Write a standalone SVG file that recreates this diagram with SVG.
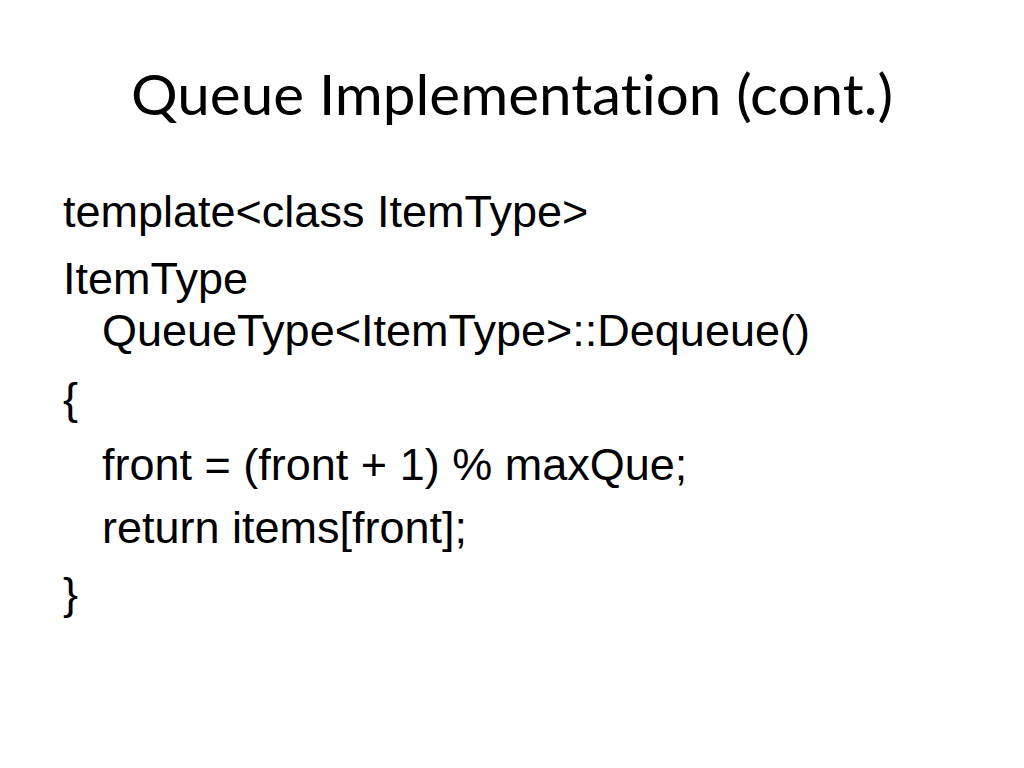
<svg xmlns="http://www.w3.org/2000/svg" width="1024" height="768" viewBox="0 0 1024 768">
  <style>
    .title { font-family: Lato, "Open Sans", "Noto Sans", sans-serif; font-size: 56px; fill: #000; font-variant-ligatures: none; font-feature-settings: "liga" 0, "clig" 0; }
    .body { font-family: "Liberation Sans", Arial, sans-serif; font-size: 45px; fill: #000; }
  </style>
  <rect width="1024" height="768" fill="#ffffff"/>
  <g id="title">
    <text class="title" x="131" y="115" textLength="762" lengthAdjust="spacingAndGlyphs">Queue Implementation (cont.)</text>
  </g>
  <g id="code">
    <text class="body" x="63" y="227">template&lt;class ItemType&gt;</text>
    <text class="body" x="63" y="294">ItemType</text>
    <text class="body" x="102" y="346">QueueType&lt;ItemType&gt;::Dequeue()</text>
    <text class="body" x="63" y="414">{</text>
    <text class="body" x="102" y="480">front = (front + 1) % maxQue;</text>
    <text class="body" x="102" y="543">return items[front];</text>
    <text class="body" x="63" y="609">}</text>
  </g>
</svg>
